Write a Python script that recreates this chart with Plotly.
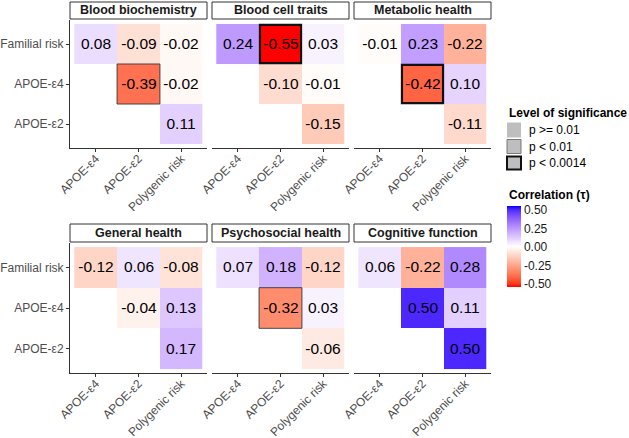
import numpy as np
import plotly.graph_objects as go

# ---------------- data ----------------
panels = ["Blood biochemistry", "Blood cell traits", "Metabolic health",
          "General health", "Psychosocial health", "Cognitive function"]
row_labels = ["Familial risk", "APOE-\u03b54", "APOE-\u03b52"]
col_labels = ["APOE-\u03b54", "APOE-\u03b52", "Polygenic risk"]
# cell order: (FR,E4) (FR,E2) (FR,PR) (E4,E2) (E4,PR) (E2,PR)
pairs = [(0, 0), (0, 1), (0, 2), (1, 1), (1, 2), (2, 2)]
blood_biochemistry = [0.08, -0.09, -0.02, -0.39, -0.02, 0.11]
blood_cell_traits = [0.24, -0.55, 0.03, -0.10, -0.01, -0.15]
metabolic_health = [-0.01, 0.23, -0.22, -0.42, 0.10, -0.11]
general_health = [-0.12, 0.06, -0.08, -0.04, 0.13, 0.17]
psychosocial_health = [0.07, 0.18, -0.12, -0.32, 0.03, -0.06]
cognitive_function = [0.06, -0.22, 0.28, 0.50, 0.11, 0.50]
values = [blood_biochemistry, blood_cell_traits, metabolic_health,
          general_health, psychosocial_health, cognitive_function]
# significance: 0 = p >= 0.01, 1 = p < 0.01, 2 = p < 0.0014
sig_blood_biochemistry = [0, 0, 0, 1, 0, 0]
sig_blood_cell_traits = [0, 2, 0, 0, 0, 0]
sig_metabolic_health = [0, 0, 0, 2, 0, 0]
sig_general_health = [0, 0, 0, 0, 0, 0]
sig_psychosocial_health = [0, 0, 0, 1, 0, 0]
sig_cognitive_function = [0, 0, 0, 0, 0, 0]
significance = [sig_blood_biochemistry, sig_blood_cell_traits, sig_metabolic_health,
                sig_general_health, sig_psychosocial_health, sig_cognitive_function]
sig_labels = ["p >= 0.01", "p < 0.01", "p < 0.0014"]
cbar_ticks = [0.5, 0.25, 0.0, -0.25, -0.5]
color_limit = 0.55

# ---------------- colour scale (Lab interpolation red-white-blue) ----------------
def srgb_to_lab(rgb):
    c = np.array(rgb, dtype=float) / 255.0
    c = np.where(c > 0.04045, ((c + 0.055) / 1.055) ** 2.4, c / 12.92)
    M = np.array([[0.4124, 0.3576, 0.1805], [0.2126, 0.7152, 0.0722], [0.0193, 0.1192, 0.9505]])
    xyz = M @ c
    xyz = xyz / np.array([0.95047, 1.0, 1.08883])
    f = np.where(xyz > 0.008856, np.cbrt(xyz), 7.787 * xyz + 16 / 116)
    return np.array([116 * f[1] - 16, 500 * (f[0] - f[1]), 200 * (f[1] - f[2])])

def lab_to_srgb(lab):
    L, a, b = lab
    fy = (L + 16) / 116
    fx = fy + a / 500
    fz = fy - b / 200
    f = np.array([fx, fy, fz])
    xyz = np.where(f ** 3 > 0.008856, f ** 3, (f - 16 / 116) / 7.787)
    xyz = xyz * np.array([0.95047, 1.0, 1.08883])
    Minv = np.array([[3.2406, -1.5372, -0.4986], [-0.9689, 1.8758, 0.0415], [0.0557, -0.2040, 1.0570]])
    c = Minv @ xyz
    c = np.clip(c, 0, 1)
    c = np.where(c > 0.0031308, 1.055 * c ** (1 / 2.4) - 0.055, 12.92 * c)
    return tuple(int(round(v * 255)) for v in np.clip(c, 0, 1))

red, white, blue = srgb_to_lab((255, 0, 0)), srgb_to_lab((255, 255, 255)), srgb_to_lab((0, 0, 255))
colorscale = []
n = 12
for i in range(n + 1):
    t = i / n
    lab = red + (white - red) * t
    colorscale.append([0.5 * t, "rgb(%d,%d,%d)" % lab_to_srgb(lab)])
for i in range(1, n + 1):
    t = i / n
    lab = white + (blue - white) * t
    colorscale.append([0.5 + 0.5 * t, "rgb(%d,%d,%d)" % lab_to_srgb(lab)])

# ---------------- layout geometry ----------------
W, H = 629, 438
col_px = [(70, 207), (212, 349), (354, 491)]
row_px = [(20, 148), (243, 373)]
strip_px = [(2, 19), (224, 242)]
FONT = "Liberation Sans, Arial, sans-serif"

fig = go.Figure()
shapes = []
annotations = []
axis_font = dict(family=FONT, size=12, color="#4D4D4D")

for p, name in enumerate(panels):
    r, c = divmod(p, 3)
    idx = p + 1
    xs = "" if idx == 1 else str(idx)
    z = [[None] * 3 for _ in range(3)]
    txt = [[""] * 3 for _ in range(3)]
    for (ri, ci), v in zip(pairs, values[p]):
        z[ri][ci] = v
        txt[ri][ci] = "%.2f" % v
    fig.add_trace(go.Heatmap(
        z=z, x=[0, 1, 2], y=[0, 1, 2], text=txt, texttemplate="%{text}",
        textfont=dict(family=FONT, size=15.5, color="black"),
        coloraxis="coloraxis", xaxis="x" + xs, yaxis="y" + xs, hoverinfo="skip"))
    x0, x1 = col_px[c]
    y0, y1 = row_px[r]
    fig.layout["xaxis" + xs] = dict(
        domain=[x0 / W, x1 / W], anchor="y" + xs, range=[-0.6, 2.6], automargin=False,
        tickvals=[0, 1, 2], ticktext=col_labels, tickangle=-45, tickfont=axis_font,
        ticklabelstandoff=-5,
        showline=True, linecolor="#333333", linewidth=1, ticks="outside", ticklen=3,
        tickcolor="#333333", showgrid=False, zeroline=False, fixedrange=True)
    fig.layout["yaxis" + xs] = dict(
        domain=[1 - y1 / H, 1 - y0 / H], anchor="x" + xs, range=[2.6, -0.6], automargin=False,
        tickvals=[0, 1, 2], ticktext=row_labels, tickfont=axis_font,
        showticklabels=(c == 0), showline=(c == 0), linecolor="#333333", linewidth=1,
        ticks="outside" if c == 0 else "", ticklen=3, tickcolor="#333333",
        showgrid=False, zeroline=False, fixedrange=True)
    # significance borders
    for (ri, ci), s in zip(pairs, significance[p]):
        if s == 1:
            shapes.append(dict(type="rect", xref="x" + xs, yref="y" + xs,
                               x0=ci - 0.5, x1=ci + 0.5, y0=ri - 0.5, y1=ri + 0.5,
                               line=dict(color="#444444", width=1)))
        elif s == 2:
            shapes.append(dict(type="rect", xref="x" + xs, yref="y" + xs,
                               x0=ci - 0.48, x1=ci + 0.48, y0=ri - 0.48, y1=ri + 0.48,
                               line=dict(color="#111111", width=2.2)))
    # strip
    s0, s1 = strip_px[r]
    shapes.append(dict(type="rect", xref="paper", yref="paper",
                       x0=x0 / W, x1=x1 / W, y0=1 - s1 / H, y1=1 - s0 / H,
                       line=dict(color="#333333", width=1), fillcolor="white"))
    annotations.append(dict(text="<b>%s</b>" % name, xref="paper", yref="paper",
                            x=(x0 + x1) / 2 / W, y=1 - (s0 + s1) / 2 / H,
                            xanchor="center", yanchor="middle", showarrow=False,
                            font=dict(family=FONT, size=12.5, color="#1A1A1A")))

# ---------------- significance legend ----------------
leg_x = 507
annotations.append(dict(text="<b>Level of significance</b>", xref="paper", yref="paper",
                        x=leg_x / W, y=1 - 113 / H, xanchor="left", yanchor="middle",
                        showarrow=False,
                        font=dict(family=FONT, size=12, color="black")))
item_y = [130, 146.5, 163]
for k, lab in enumerate(sig_labels):
    yc = item_y[k]
    if k == 0:
        line = dict(width=0)
        pad = 7.5
    elif k == 1:
        line = dict(color="#777777", width=1)
        pad = 7
    else:
        line = dict(color="#111111", width=2)
        pad = 6.5
    shapes.append(dict(type="rect", xref="paper", yref="paper",
                       x0=(leg_x) / W, x1=(leg_x + 14) / W,
                       y0=1 - (yc + pad) / H, y1=1 - (yc - pad) / H,
                       fillcolor="#BEBEBE", line=line))
    annotations.append(dict(text=lab, xref="paper", yref="paper",
                            x=(leg_x + 20) / W, y=1 - yc / H, xanchor="left", yanchor="middle",
                            showarrow=False,
                            font=dict(family=FONT, size=12, color="black")))

annotations.append(dict(text="<b>Correlation (\u03c4)</b>", xref="paper", yref="paper",
                        x=leg_x / W, y=1 - 195 / H, xanchor="left", yanchor="middle",
                        showarrow=False,
                        font=dict(family=FONT, size=12, color="black")))

fig.update_layout(
    width=W, height=H, margin=dict(l=0, r=0, t=0, b=0, autoexpand=False),
    paper_bgcolor="white", plot_bgcolor="white",
    coloraxis=dict(
        cmin=-color_limit, cmax=color_limit, colorscale=colorscale,
        colorbar=dict(
            title=dict(text=""), thickness=14, thicknessmode="pixels",
            len=81, lenmode="pixels", x=leg_x / W, xanchor="left",
            y=1 - 247 / H, yanchor="middle", outlinewidth=0, ticks="",
            tickvals=cbar_ticks, ticktext=["%.2f" % t for t in cbar_ticks],
            tickfont=dict(family=FONT, size=12, color="#1A1A1A"),
            xpad=0, ypad=0)),
    shapes=shapes, annotations=annotations, showlegend=False)

fig.write_html("out.html", config={"displayModeBar": False},
               post_script="document.body.style.margin='0px';document.body.style.overflow='hidden';")
